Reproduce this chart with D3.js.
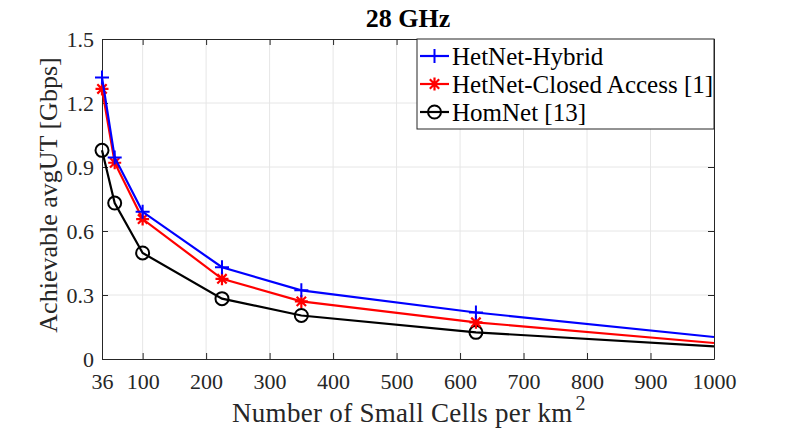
<!DOCTYPE html>
<html>
<head>
<meta charset="utf-8">
<script src="https://cdn.jsdelivr.net/npm/d3@7"></script>
<style>
  body { margin: 0; background: #fff; }
  text { font-family: "Liberation Serif", "Times New Roman", serif; }
</style>
</head>
<body>
<svg id="chart" width="789" height="443"></svg>
<script>
// data
const cells = [36, 56, 100, 225, 350, 625, 1000];
const hybrid = [1.32, 0.945, 0.69, 0.43, 0.322, 0.218, 0.103];
const closedAccess = [1.266, 0.92, 0.656, 0.376, 0.27, 0.172, 0.075];
const homNet = [0.978, 0.731, 0.497, 0.283, 0.204, 0.125, 0.059];
const xTicks = [36, 100, 200, 300, 400, 500, 600, 700, 800, 900, 1000];
const yTicks = [0, 0.3, 0.6, 0.9, 1.2, 1.5];

const series = [
  { name: 'HetNet-Hybrid', values: hybrid, color: '#0000ff', marker: 'plus' },
  { name: 'HetNet-Closed Access [1]', values: closedAccess, color: '#ff0000', marker: 'star' },
  { name: 'HomNet [13]', values: homNet, color: '#000000', marker: 'circle' }
];

const svg = d3.select('#chart');
const margin = { left: 102, right: 75, top: 39, bottom: 84 };
const W = 789, H = 443;
const x = d3.scaleLinear().domain([36, 1000]).range([margin.left, W - margin.right]);
const y = d3.scaleLinear().domain([0, 1.5]).range([H - margin.bottom, margin.top]);
const axisColor = '#262626';

// grid
const grid = svg.append('g').attr('stroke', '#e6e6e6').attr('stroke-width', 1);
xTicks.slice(1, -1).forEach(t => grid.append('line')
  .attr('x1', x(t)).attr('x2', x(t)).attr('y1', y(0)).attr('y2', y(1.5)));
yTicks.slice(1, -1).forEach(t => grid.append('line')
  .attr('x1', x(36)).attr('x2', x(1000)).attr('y1', y(t)).attr('y2', y(t)));

// axes (ticks inward, box all around)
const tickLen = 6;
const axBottom = svg.append('g').attr('transform', `translate(0,${y(0)})`)
  .call(d3.axisBottom(x).tickValues(xTicks).tickSizeInner(-tickLen).tickSizeOuter(0).tickPadding(14)
    .tickFormat(d3.format('d')));
const axTop = svg.append('g').attr('transform', `translate(0,${y(1.5)})`)
  .call(d3.axisTop(x).tickValues(xTicks).tickSizeInner(-tickLen).tickSizeOuter(0).tickFormat(''));
const axLeft = svg.append('g').attr('transform', `translate(${x(36)},0)`)
  .call(d3.axisLeft(y).tickValues(yTicks).tickSizeInner(-tickLen).tickSizeOuter(0).tickPadding(8)
    .tickFormat(d => d === 0 ? '0' : d3.format('.1f')(d)));
const axRight = svg.append('g').attr('transform', `translate(${x(1000)},0)`)
  .call(d3.axisRight(y).tickValues(yTicks).tickSizeInner(-tickLen).tickSizeOuter(0).tickFormat(''));

[axBottom, axTop, axLeft, axRight].forEach(a => {
  a.select('.domain').attr('stroke', axisColor).attr('stroke-width', 1);
  a.selectAll('.tick line').attr('stroke', axisColor);
  a.selectAll('.tick text').attr('fill', axisColor)
    .style('font-family', '"Liberation Serif", serif').style('font-size', '22px');
});
axBottom.selectAll('.tick text').attr('dy', '0.71em');

// lines
const line = d3.line().x((d, i) => x(cells[i])).y(d => y(d));

function drawMarker(g, type, cx, cy, color) {
  if (type === 'plus') {
    g.append('path').attr('d', `M${cx - 7},${cy}H${cx + 7}M${cx},${cy - 7}V${cy + 7}`)
      .attr('stroke', color).attr('stroke-width', 2).attr('fill', 'none');
  } else if (type === 'star') {
    const r = 6.5;
    let d = `M${cx - r},${cy}H${cx + r}M${cx},${cy - r}V${cy + r}`;
    const k = r * 0.72;
    d += `M${cx - k},${cy - k}L${cx + k},${cy + k}M${cx - k},${cy + k}L${cx + k},${cy - k}`;
    g.append('path').attr('d', d).attr('stroke', color).attr('stroke-width', 2.2).attr('fill', 'none');
  } else {
    g.append('circle').attr('cx', cx).attr('cy', cy).attr('r', 6.5)
      .attr('stroke', color).attr('stroke-width', 2).attr('fill', 'none');
  }
}

series.slice().reverse().forEach(s => {
  const g = svg.append('g');
  g.append('path').datum(s.values).attr('d', line)
    .attr('fill', 'none').attr('stroke', s.color).attr('stroke-width', 2.2);
  s.values.forEach((v, i) => {
    if (cells[i] === 1000) return;
    drawMarker(g, s.marker, x(cells[i]), y(v), s.color);
  });
});

// title and labels
svg.append('text').attr('x', (x(36) + x(1000)) / 2).attr('y', 27)
  .attr('text-anchor', 'middle').attr('font-weight', 'bold').attr('font-size', 26)
  .attr('fill', '#000').text('28 GHz');

const xl = svg.append('text').attr('x', 232).attr('y', 422)
  .attr('font-size', 27).attr('letter-spacing', 0.3).attr('fill', axisColor);
xl.append('tspan').text('Number of Small Cells per km');
xl.append('tspan').attr('dx', 3).attr('dy', -12).attr('font-size', 20).text('2');

svg.append('text').attr('transform', `translate(57,195) rotate(-90)`)
  .attr('text-anchor', 'middle').attr('font-size', 26).attr('fill', axisColor)
  .text('Achievable avgUT [Gbps]');

// legend
const lg = svg.append('g');
const lx = 417, ly = 39, lw = 297, lh = 90;
lg.append('rect').attr('x', lx).attr('y', ly).attr('width', lw).attr('height', lh)
  .attr('fill', '#fff').attr('stroke', axisColor).attr('stroke-width', 1);
series.forEach((s, i) => {
  const cy = ly + 17 + i * 28;
  lg.append('line').attr('x1', lx + 3).attr('x2', lx + 32).attr('y1', cy).attr('y2', cy)
    .attr('stroke', s.color).attr('stroke-width', 2.2);
  drawMarker(lg, s.marker, lx + 17.5, cy, s.color);
  lg.append('text').attr('x', lx + 35).attr('y', cy).attr('dy', '0.35em')
    .attr('font-size', 25).attr('fill', '#000').text(s.name);
});
</script>
</body>
</html>
